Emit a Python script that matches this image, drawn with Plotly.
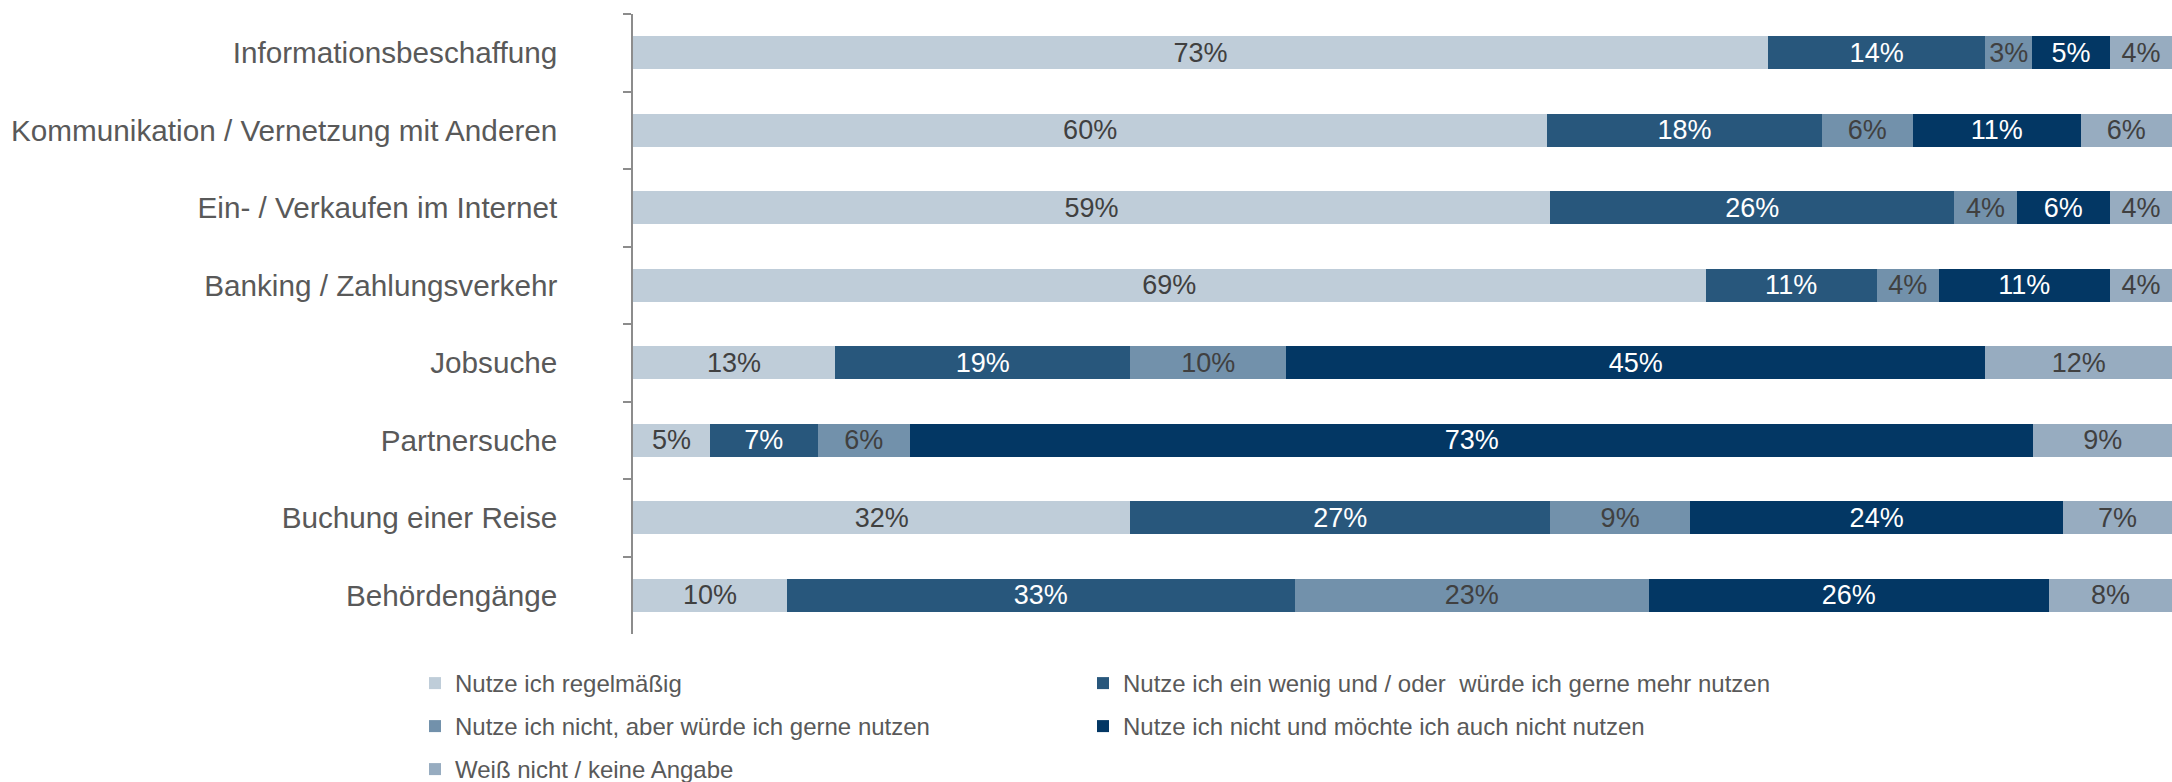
import plotly.graph_objects as go

# Survey categories, top to bottom
categories = [
    "Informationsbeschaffung",
    "Kommunikation / Vernetzung mit Anderen",
    "Ein- / Verkaufen im Internet",
    "Banking / Zahlungsverkehr",
    "Jobsuche",
    "Partnersuche",
    "Buchung einer Reise",
    "Behördengänge",
]

# Answer shares in percent per category
regelmaessig = [73, 60, 59, 69, 13, 5, 32, 10]
wenig_mehr = [14, 18, 26, 11, 19, 7, 27, 33]
nicht_gerne = [3, 6, 4, 4, 10, 6, 9, 23]
nicht_nicht = [5, 11, 6, 11, 45, 73, 24, 26]
weiss_nicht = [4, 6, 4, 4, 12, 9, 7, 8]

series_names = [
    "Nutze ich regelmäßig",
    "Nutze ich ein wenig und / oder \u00a0würde ich gerne mehr nutzen",
    "Nutze ich nicht, aber würde ich gerne nutzen",
    "Nutze ich nicht und möchte ich auch nicht nutzen",
    "Weiß nicht / keine Angabe",
]
series_values = [regelmaessig, wenig_mehr, nicht_gerne, nicht_nicht, weiss_nicht]
series_colors = ["#BFCDD9", "#28577C", "#7291AB", "#033764", "#97ACC0"]
label_colors = ["#404040", "#FFFFFF", "#404040", "#FFFFFF", "#404040"]

FONT = "Liberation Sans, Arial, sans-serif"
W, H = 2172, 782

# One legend box per entry so the two-column grid can be placed freely
legend_ids = ["legend", "legend2", "legend3", "legend4", "legend5"]
legend_pos = [(415, 661), (1083, 661), (415, 704), (1083, 704), (415, 747)]

fig = go.Figure()
for name, vals, col, tcol, lid in zip(
    series_names, series_values, series_colors, label_colors, legend_ids
):
    fig.add_trace(
        go.Bar(
            y=categories,
            x=vals,
            name=name,
            orientation="h",
            marker=dict(color=col, line=dict(width=0)),
            text=[f"{v}%" for v in vals],
            textposition="inside",
            insidetextanchor="middle",
            textangle=0,
            textfont=dict(family=FONT, size=27, color=tcol),
            hoverinfo="skip",
            legend=lid,
        )
    )

legend_layout = {}
for lid, (lx, ly) in zip(legend_ids, legend_pos):
    legend_layout[lid] = dict(
        orientation="h",
        xref="container",
        yref="container",
        x=lx / W,
        xanchor="left",
        y=1 - ly / H,
        yanchor="top",
        font=dict(family=FONT, size=24, color="#595959"),
        bgcolor="rgba(0,0,0,0)",
    )

fig.update_layout(
    width=W,
    height=H,
    barmode="stack",
    barnorm="percent",
    bargap=0.57,
    plot_bgcolor="white",
    paper_bgcolor="white",
    margin=dict(l=633, r=0, t=14, b=148),
    uniformtext=dict(minsize=27, mode="show"),
    font=dict(family=FONT, color="#595959"),
    showlegend=True,
    **legend_layout,
)

fig.update_xaxes(
    range=[0, 100],
    showgrid=False,
    zeroline=False,
    showticklabels=False,
    showline=False,
    ticks="",
)

fig.update_yaxes(
    categoryorder="array",
    categoryarray=categories,
    autorange="reversed",
    showgrid=False,
    showline=True,
    linecolor="#8C8C8C",
    linewidth=1.5,
    ticks="outside",
    tickson="boundaries",
    ticklen=8,
    tickwidth=1.5,
    tickcolor="#8C8C8C",
    ticklabelstandoff=68,
    tickfont=dict(family=FONT, size=29.7, color="#595959"),
)

fig.write_html("out.html")
